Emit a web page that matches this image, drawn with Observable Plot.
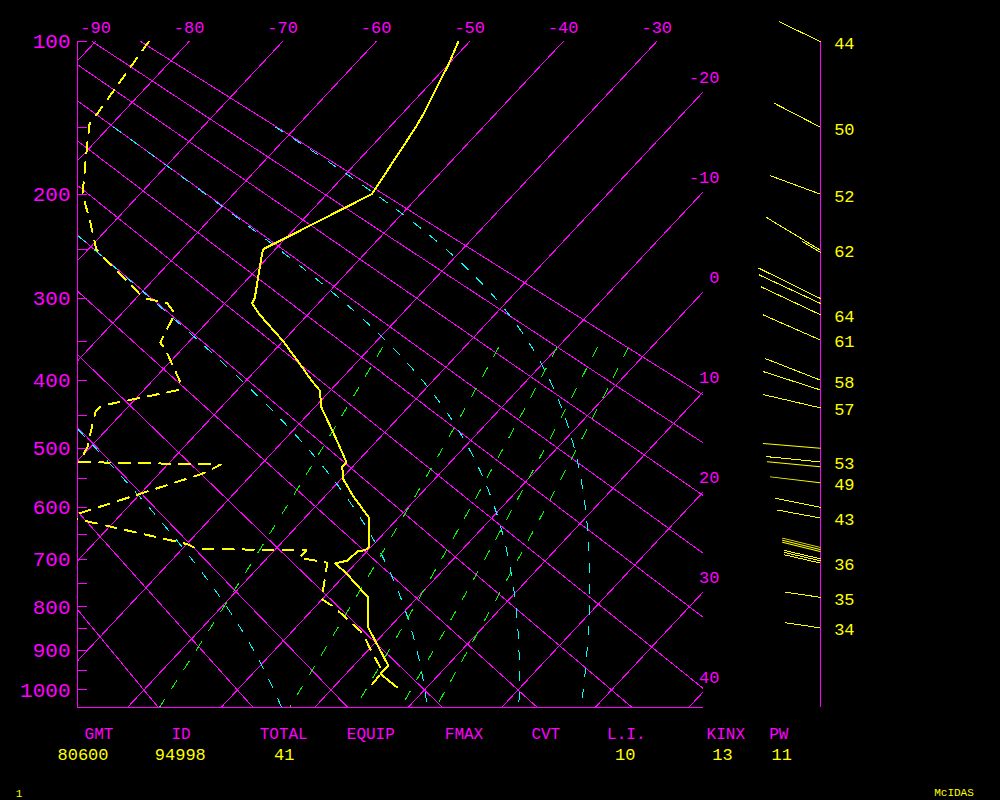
<!DOCTYPE html>
<html><head><meta charset="utf-8">
<script src="https://cdn.jsdelivr.net/npm/d3@7"></script>
<script src="https://cdn.jsdelivr.net/npm/@observablehq/plot@0.6"></script>
<style>
html,body{margin:0;padding:0;background:#000;}
#wrap{position:relative;width:1000px;height:800px;background:#000;overflow:hidden;}
.ft{position:absolute;font-family:"Liberation Mono",monospace;transform:translate(-50%,-50%);white-space:pre;line-height:1;}
</style></head><body><div id="wrap"></div>
<script>
// ================= DATA =================
// pressure axis (hPa)
const pressureTicks = [100,150,200,250,300,350,400,450,500,550,600,650,700,750,800,850,900,950,1000];
const pressureLabels = [100,200,300,400,500,600,700,800,900,1000];
// isotherms (deg C) and their labels
const isotherms = [-90,-80,-70,-60,-50,-40,-30,-20,-10,0,10,20,30,40];
const topTempLabels = [-90,-80,-70,-60,-50,-40,-30];
const rightTempLabels = [-20,-10,0,10,20,30,40];
// dry adiabats (potential temperature, deg C)
const dryAdiabats = [-20,-10,0,10,20,30,40,50,60,70,80,90];
// moist adiabats (equivalent potential temperature, deg C)
const moistAdiabats = [0,30,60,90];
// saturation mixing-ratio lines (g/kg)
const mixingRatios = [1,3,5,7,9];

// temperature profile
const tempP = [100,111.7,141.3,150,189.1,200,242.6,248.9,252.2,300,305.5,317.4,349.1,374.3,400,414.5,437.9,477.5,522.6,530,550.4,582.3,618.5,675.7,680.9,683.7,702.3,707.8,726.2,779,846.2,938.1,958.9,984.4,993];
const tempT = [-51.2,-50.0,-47.7,-47.2,-45.6,-45.2,-50.5,-51.3,-51.1,-47.3,-47.1,-45.3,-40.1,-36.5,-33.1,-31.1,-29.3,-25.3,-21.1,-21.1,-19.8,-16.8,-13.2,-10.2,-10.3,-11.0,-11.2,-12.2,-10.2,-5.3,-2.3,3.7,3.7,6.0,6.8];

// dewpoint profile
const dewP = [100,141.3,147.9,160.4,175.0,193.1,198.7,205.4,222.7,248.9,257.1,277.4,287.2,299.5,305.2,317.1,351.3,363.8,400.8,413.4,433.3,437.2,443.9,460.2,498.5,522.3,526.4,541.9,612.3,619.1,625.9,669.1,678.7,681.4,696.3,706.4,726.2,782.5,801.0,821.8,854.1,873.6,897.4,942.3,958.9,993];
const dewT = [-84.3,-82.6,-82.4,-80.8,-79.0,-76.9,-76.3,-75.3,-72.7,-69.2,-67.6,-63.5,-61.5,-59.3,-56.2,-54.3,-53.0,-51.3,-47.1,-46.2,-52.2,-53.0,-53.0,-52.2,-50.3,-49.7,-34.3,-35.4,-44.7,-45.2,-42.9,-30.0,-28.4,-16.6,-16.6,-13.1,-12.3,-10.1,-7.9,-5.9,-2.8,-1.4,0.1,3.0,3.7,3.9];

// winds on the right-hand staff
const windP   = [100,150,200,250,252.2,300,305.5,318.3,348.3,400,413.4,438.8,500,522,530,557,600,619.6,675.7,679.7,683.7,698.3,702.3,707,779,847.6];
const windSpd = [44,50,52,62,21,67,66,64,61,58,58,57,56,53,52,49,45,43,38,38,38,36,36,36,35,34];
const windDir = [295.8,297.4,290.2,301.2,301.2,296.2,295.0,295.2,293.7,291.4,287.8,283.1,274.7,275.6,275.4,276.8,281.3,280.5,283.8,283.8,283.8,283,283,283,278.4,278.4];
const windLabel = ["44","50","52","62","","","","64","61","58","","57","","53","","49","","43","","","","","","36","35","34"];

// footer
const footerHeads = ["GMT","ID","TOTAL","EQUIP","FMAX","CVT","L.I.","KINX","PW"];
const footerValues = ["80600","94998","41","","","","10","13","11"];

// ================= LAYOUT / STYLE =================
const MAG = "#ff00ff", YEL = "#ffff00", CYAN = "#00ffff", GREEN = "#00ff00";
const FONT = "Liberation Mono, monospace";
const KAPPA = 0.286;
const P_TOP = 100, P_BOT = 1046.4;
const X_LEFT = -91.93, X_RIGHT = -25;
const SKEW = 18.638;          // deg C per unit of p^kappa
const STAFF_X = -12.53;        // wind staff position (skewed temperature units)
const headX = [99,181,283.7,370.8,464,545.8,626.3,725.8,778.8];
const valX  = [83,180.3,284.2,0,0,0,625.3,722.5,781.7];

// ================= HELPERS =================
const PK = p => Math.pow(p, KAPPA);
const skewX = (T, p) => T - SKEW * (PK(p) - PK(P_TOP));
const pAtRight = T => Math.pow(PK(P_TOP) + (T - X_RIGHT) / SKEW, 1 / KAPPA);
const esat = Tc => 6.112 * Math.exp(17.67 * Tc / (Tc + 243.5));
function thetaE(Tk, p) {
  const es = esat(Tk - 273.15);
  const rs = 0.622 * es / Math.max(p - es, 1e-6);
  return Tk * Math.pow(1000 / p, KAPPA) * Math.exp(2.5e6 * rs / (1004 * Tk));
}
function moistT(theK, p) {
  let lo = 150, hi = 340;
  for (let i = 0; i < 60; i++) {
    const mid = (lo + hi) / 2;
    if (thetaE(mid, p) > theK) hi = mid; else lo = mid;
  }
  return (lo + hi) / 2 - 273.15;
}
function range(a, b, step) { const o = []; for (let v = a; v < b; v += step) o.push(v); o.push(b); return o; }

// ================= ROWS =================
const isoRows = isotherms.flatMap(T => [P_TOP, P_BOT].map(p => ({x: skewX(T, p), y: p, z: T})));
const dryRows = dryAdiabats.flatMap(th => [P_TOP, P_BOT].map(p => {
  const T = (th + 273.15) * Math.pow(p / 1000, KAPPA) - 273.15;
  return {x: skewX(T, p), y: p, z: th};
}));
const moistRows = moistAdiabats.flatMap(th => range(150, P_BOT, 4).map(p => {
  const T = moistT(th + 273.15, p);
  return {x: skewX(T, p), y: p, z: th};
}));
const mixRows = mixingRatios.flatMap(w => range(358, P_BOT, 8).map(p => {
  const e = w * p / (622 + w);
  const l = Math.log(e / 6.112);
  const T = 243.5 * l / (17.67 - l);
  return {x: skewX(T, p), y: p, z: w};
}));
const tempRows = tempP.map((p, i) => ({x: skewX(tempT[i], p), y: p}));
const dewRows = dewP.map((p, i) => ({x: skewX(dewT[i], p), y: p}));
const windRows = windP.map((p, i) => ({p, spd: windSpd[i], dir: windDir[i], label: windLabel[i]}));

const lineShape = {draw(ctx, l) { ctx.moveTo(0, 0); ctx.lineTo(0, -l); }};
const crisp = "crispEdges";

const chart = Plot.plot({
  width: 1000, height: 800,
  marginLeft: 77, marginRight: 297, marginTop: 41, marginBottom: 93,
  style: {background: "#000", overflow: "visible"},
  x: {type: "linear", domain: [X_LEFT, X_RIGHT], axis: null},
  y: {type: "pow", exponent: KAPPA, domain: [P_TOP, P_BOT], reverse: true, axis: null},
  length: {type: "linear", domain: [0, 100], range: [0, 102]},
  marks: [
    Plot.line(isoRows, {x: "x", y: "y", z: "z", stroke: MAG, strokeWidth: 1, clip: true, shapeRendering: crisp}),
    Plot.line(dryRows, {x: "x", y: "y", z: "z", stroke: MAG, strokeWidth: 1, clip: true, shapeRendering: crisp}),
    Plot.line(moistRows, {x: "x", y: "y", z: "z", stroke: CYAN, strokeWidth: 1, strokeDasharray: "9,12", clip: true, shapeRendering: crisp}),
    Plot.line(mixRows, {x: "x", y: "y", z: "z", stroke: GREEN, strokeWidth: 1, strokeDasharray: "10,13", clip: true, shapeRendering: crisp}),
    Plot.ruleX([X_LEFT], {y1: P_TOP, y2: P_BOT, stroke: MAG, strokeWidth: 1, shapeRendering: crisp}),
    Plot.ruleY([P_BOT], {x1: X_LEFT, x2: X_RIGHT, stroke: MAG, strokeWidth: 1, shapeRendering: crisp}),
    Plot.vector(pressureTicks, {x: X_LEFT, y: d => d, length: 9, rotate: 90, anchor: "start", shape: lineShape, stroke: MAG, strokeWidth: 1, shapeRendering: crisp}),
    Plot.text(pressureLabels, {x: X_LEFT, y: d => d, text: d => String(d), textAnchor: "end", dx: -7, fill: MAG, fontSize: 21, fontFamily: FONT}),
    Plot.text(topTempLabels, {x: d => d, y: P_TOP, text: d => String(d), dy: -14, fill: MAG, fontSize: 17, fontFamily: FONT}),
    Plot.text(rightTempLabels, {x: X_RIGHT, y: d => pAtRight(d), text: d => String(d), dx: 16, dy: -14, textAnchor: "end", fill: MAG, fontSize: 17, fontFamily: FONT}),
    Plot.line(dewRows, {x: "x", y: "y", stroke: YEL, strokeWidth: 2, strokeDasharray: "11,9", clip: true, shapeRendering: crisp}),
    Plot.line(tempRows, {x: "x", y: "y", stroke: YEL, strokeWidth: 2, clip: true, shapeRendering: crisp}),
    Plot.ruleX([STAFF_X], {y1: P_TOP, y2: P_BOT, stroke: MAG, strokeWidth: 1, shapeRendering: crisp}),
    Plot.vector(windRows, {x: STAFF_X, y: "p", length: "spd", rotate: "dir", anchor: "start", shape: lineShape, stroke: YEL, strokeWidth: 1, shapeRendering: crisp}),
    Plot.text(windRows.filter(d => d.label), {x: STAFF_X, y: "p", text: "label", dx: 14, dy: 2, textAnchor: "start", fill: YEL, fontSize: 17, fontFamily: FONT})
  ]
});

const wrap = document.getElementById("wrap");
wrap.appendChild(chart);
function addText(txt, x, y, color, size) {
  if (!txt) return;
  const s = document.createElement("div");
  s.className = "ft";
  s.textContent = txt;
  s.style.left = x + "px"; s.style.top = y + "px";
  s.style.color = color; s.style.fontSize = size + "px";
  wrap.appendChild(s);
}
footerHeads.forEach((h, i) => addText(h, headX[i], 734.5, MAG, 16));
footerValues.forEach((v, i) => addText(v, valX[i], 754.7, YEL, 17));
addText("1", 19, 794, YEL, 11);
addText("McIDAS", 954, 793, YEL, 11);
</script></body></html>
